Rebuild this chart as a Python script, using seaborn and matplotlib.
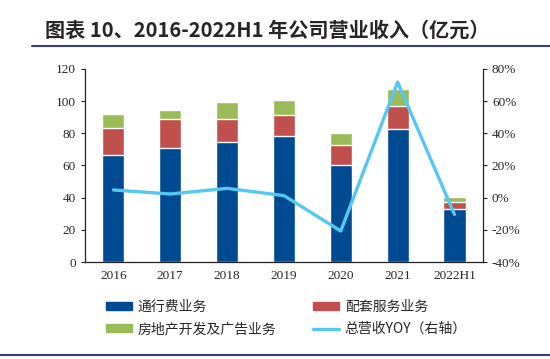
import numpy as np
import pandas as pd
import matplotlib.pyplot as plt
import seaborn as sns
from matplotlib.patches import Patch
from matplotlib.lines import Line2D

years = ["2016", "2017", "2018", "2019", "2020", "2021", "2022H1"]
toll = [66.5, 71.1, 74.6, 78.4, 60.1, 82.7, 33.0]
service = [16.6, 17.6, 14.1, 13.0, 12.9, 14.1, 4.5]
estate = [8.7, 5.8, 10.8, 9.3, 7.2, 10.6, 3.1]
yoy = [4.8, 2.3, 5.8, 1.3, -20.7, 71.8, -10.4]

names = ["通行费业务", "配套服务业务", "房地产开发及广告业务", "总营收YOY（右轴）"]
colors = ["#004a91", "#c0504d", "#9bbb59", "#55c8f2"]

sns.set_theme(style="white")
plt.rcParams["font.family"] = ["Liberation Serif", "Noto Sans CJK SC", "DejaVu Sans"]

df = pd.DataFrame({"year": years, "toll": toll, "service": service, "estate": estate, "yoy": yoy})
df["s2"] = df["toll"] + df["service"]
df["s3"] = df["s2"] + df["estate"]

fig = plt.figure(figsize=(5.5, 3.59), dpi=100)
ax = fig.add_axes([0.1545, 0.270, 0.7235, 0.538])

for col, c in [("s3", colors[2]), ("s2", colors[1]), ("toll", colors[0])]:
    sns.barplot(data=df, x="year", y=col, color=c, width=0.39, saturation=1, ax=ax)

ax.set_ylim(0, 120)
ax.set_yticks(range(0, 121, 20))
ax.set_xlim(-0.5, 6.5)
ax.set_xlabel("")
ax.set_ylabel("")
ax.tick_params(axis="y", direction="out", length=3, width=0.8, left=True, labelsize=9.5, color="#222222")
ax.tick_params(axis="x", length=0, labelsize=9.5, pad=6)
for s in ["top", "right"]:
    ax.spines[s].set_visible(False)
for s in ["left", "bottom"]:
    ax.spines[s].set_color("#222222")
    ax.spines[s].set_linewidth(0.9)

ax2 = ax.twinx()
ax2.plot(np.arange(len(years)), df["yoy"], color=colors[3], lw=2.4)
ax2.set_ylim(-40, 80)
ax2.set_yticks(range(-40, 81, 20))
ax2.set_yticklabels([f"{v}%" for v in range(-40, 81, 20)])
ax2.tick_params(axis="y", direction="out", length=3, width=0.8, right=True, labelsize=9.5, color="#222222")
for s in ["top", "left", "bottom"]:
    ax2.spines[s].set_visible(False)
ax2.spines["right"].set_color("#222222")
ax2.spines["right"].set_linewidth(0.9)

handles = [Patch(color=colors[0]), Patch(color=colors[1]), Patch(color=colors[2]),
           Line2D([0], [0], color=colors[3], lw=2.4)]
order = [0, 2, 1, 3]
fig.legend([handles[i] for i in order], [names[i] for i in order], ncol=2,
           loc="upper left", bbox_to_anchor=(0.17, 0.2), frameon=False,
           handlelength=1.9, handleheight=0.5, handletextpad=0.4, columnspacing=2.6,
           labelspacing=0.6, prop={"family": ["Noto Sans CJK SC", "DejaVu Sans"], "size": 10})

fig.text(0.082, 0.915, "图表 10、2016-2022H1 年公司营业收入（亿元）", fontsize=14.5,
         fontweight="bold", family=["Noto Sans CJK SC", "DejaVu Sans"], va="center")
fig.add_artist(Line2D([0.058, 1.0], [0.872, 0.872], color="#3c3c7a", lw=1.5))
fig.add_artist(Line2D([0.0, 1.0], [0.012, 0.012], color="#3c3c7a", lw=1.5))

fig.savefig("out.png", dpi=100)
